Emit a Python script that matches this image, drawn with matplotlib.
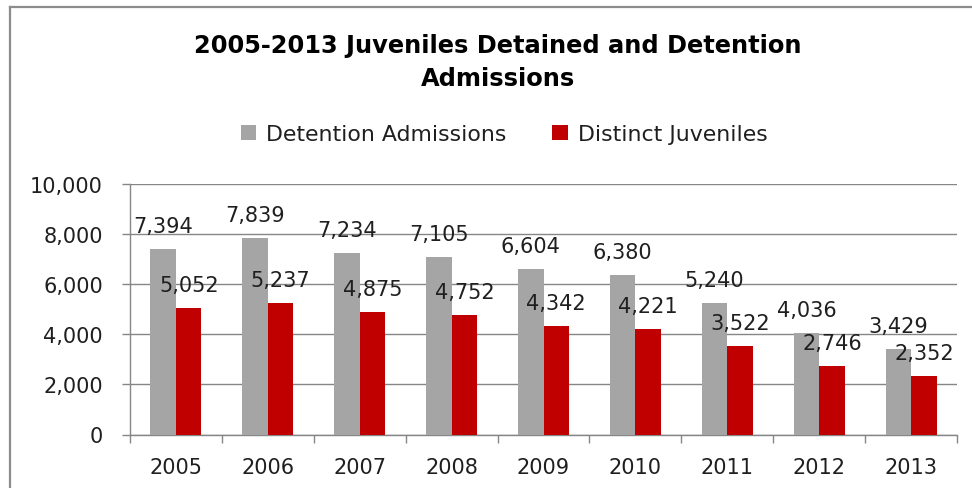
import matplotlib
matplotlib.use("Agg")
import matplotlib.pyplot as plt
from matplotlib.lines import Line2D
import numpy as np

years = ["2005", "2006", "2007", "2008", "2009", "2010", "2011", "2012", "2013"]
admissions = [7394, 7839, 7234, 7105, 6604, 6380, 5240, 4036, 3429]
juveniles = [5052, 5237, 4875, 4752, 4342, 4221, 3522, 2746, 2352]
series_names = ["Detention Admissions", "Distinct Juveniles"]
title_lines = ["2005-2013 Juveniles Detained and Detention", "Admissions"]

W, H = 972, 489
fig = plt.figure(figsize=(W / 100, H / 100), dpi=100)
fig.patch.set_facecolor("white")

# plot area
left, right, top, bottom = 130, 957, 185, 435.5
ax = fig.add_axes([left / W, 1 - bottom / H, (right - left) / W, (bottom - top) / H])

grey = "#A5A5A5"
red = "#C00000"
axis_col = "#868686"
txt_col = "#1f1f1f"

x = np.arange(len(years))
bw = 0.278
b1 = ax.bar(x - bw / 2, admissions, width=bw, color=grey, label=series_names[0], zorder=3)
b2 = ax.bar(x + bw / 2, juveniles, width=bw, color=red, label=series_names[1], zorder=3)

for bars, vals in ((b1, admissions), (b2, juveniles)):
    for rect, v in zip(bars, vals):
        ax.annotate(f"{v:,}", (rect.get_x() + rect.get_width() / 2, v),
                    xytext=(0, 17), textcoords="offset pixels",
                    ha="center", va="baseline", fontsize=15, color=txt_col,
                    family="DejaVu Sans", zorder=5)

ax.set_xlim(-0.5, len(years) - 0.5)
ax.set_ylim(0, 10000)
ax.set_yticks(np.arange(0, 10001, 2000))
ax.set_yticklabels([f"{int(v):,}" for v in np.arange(0, 10001, 2000)])
ax.yaxis.grid(True, color=axis_col, linewidth=1.0, zorder=0)
ax.set_axisbelow(True)

# category boundary ticks
ax.set_xticks(np.arange(-0.5, len(years), 1.0))
ax.set_xticklabels([])
ax.set_xticks(x, minor=True)
ax.set_xticklabels(years, minor=True)
ax.tick_params(axis="x", which="major", length=6, width=1, color=axis_col, direction="out")
ax.tick_params(axis="x", which="minor", length=0, pad=16.5, labelsize=15, labelcolor=txt_col)
ax.tick_params(axis="y", length=6, width=1, color=axis_col, direction="out", pad=13.5,
               labelsize=15, labelcolor=txt_col)

for s in ("top", "right"):
    ax.spines[s].set_visible(False)
for s in ("left", "bottom"):
    ax.spines[s].set_color(axis_col)
    ax.spines[s].set_linewidth(1.0)

# legend
leg = fig.legend(handles=[b1, b2], labels=series_names, loc="center",
                 bbox_to_anchor=(504 / W, 1 - 135 / H), ncol=2, frameon=False,
                 fontsize=15.8, handlelength=0.72, handleheight=0.72,
                 handletextpad=0.43, columnspacing=2.1, borderpad=0, borderaxespad=0)
for t in leg.get_texts():
    t.set_color(txt_col)

# title (two lines, centred)
for line, yc in zip(title_lines, (46, 79)):
    fig.text(498 / W, 1 - yc / H, line, ha="center", va="center", fontsize=17.4,
             fontweight="bold", family="DejaVu Sans", color="black")

# chart frame (top and left border)
fig.add_artist(Line2D([10 / W, 1], [1 - 8 / H, 1 - 8 / H], color="#8c8c8c", linewidth=1.6))
fig.add_artist(Line2D([10 / W, 10 / W], [0, 1 - 8 / H], color="#8c8c8c", linewidth=1.6))

fig.savefig("out.png", dpi=100, facecolor="white")
